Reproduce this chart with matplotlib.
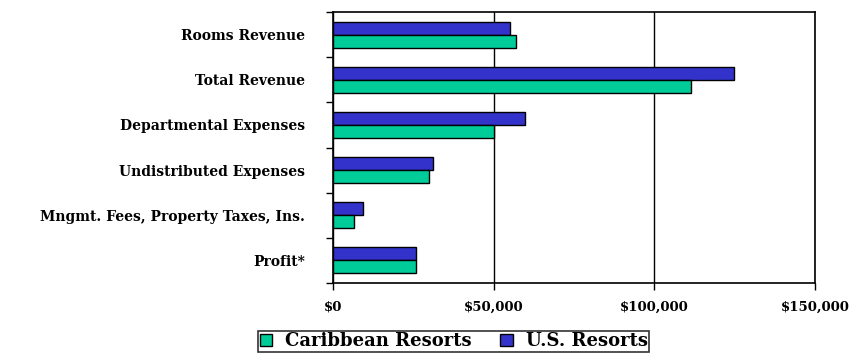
import numpy as np
import matplotlib.pyplot as plt
from matplotlib.ticker import FuncFormatter, FixedLocator

categories = ["Rooms Revenue", "Total Revenue", "Departmental Expenses",
              "Undistributed Expenses", "Mngmt. Fees, Property Taxes, Ins.", "Profit*"]
caribbean = [57000, 111500, 50000, 29800, 6500, 25800]
us = [55000, 124700, 59700, 31200, 9300, 25900]

green = "#00CC99"
blue = "#3333CC"

plt.rcParams["font.family"] = ["DejaVu Serif"]

fig = plt.figure(figsize=(8.51, 3.55), dpi=100)
ax = fig.add_axes([0.391, 0.203, 0.567, 0.763])

y = np.arange(len(categories))
h = 0.29
ax.barh(y - h / 2, us, height=h, color=blue, edgecolor="black", linewidth=1, label="U.S. Resorts", zorder=3)
ax.barh(y + h / 2, caribbean, height=h, color=green, edgecolor="black", linewidth=1, label="Caribbean Resorts", zorder=3)

ax.set_xlim(0, 150000)
ax.set_ylim(len(categories) - 0.5, -0.5)
ax.set_xticks([0, 50000, 100000, 150000])
ax.xaxis.set_major_formatter(FuncFormatter(lambda v, p: "${:,.0f}".format(v)))
ax.grid(axis="x", color="black", linewidth=1, zorder=0)

ax.set_yticks(y)
ax.set_yticklabels(categories, fontsize=10, fontweight="bold")
ax.yaxis.set_minor_locator(FixedLocator(np.arange(-0.5, len(categories), 1)))
ax.tick_params(axis="y", which="major", length=0, pad=20)
ax.tick_params(axis="y", which="minor", length=5, width=1, direction="out")
ax.tick_params(axis="x", length=5, width=1, direction="out", labelsize=9.5, pad=8)
for t in ax.get_xticklabels():
    t.set_fontweight("bold")
for s in ax.spines.values():
    s.set_linewidth(1.2)

handles, labels = ax.get_legend_handles_labels()
leg = fig.legend(handles[::-1], labels[::-1], loc="lower center", bbox_to_anchor=(0.533, 0.0),
                 ncol=2, frameon=True, fancybox=False, edgecolor="black",
                 prop={"weight": "bold", "size": 13}, handlelength=0.7, handleheight=0.7,
                 handletextpad=0.7, columnspacing=1.6, borderpad=0.1, borderaxespad=0.15)
leg.get_frame().set_linewidth(1.2)

fig.savefig("out.png", dpi=100)
